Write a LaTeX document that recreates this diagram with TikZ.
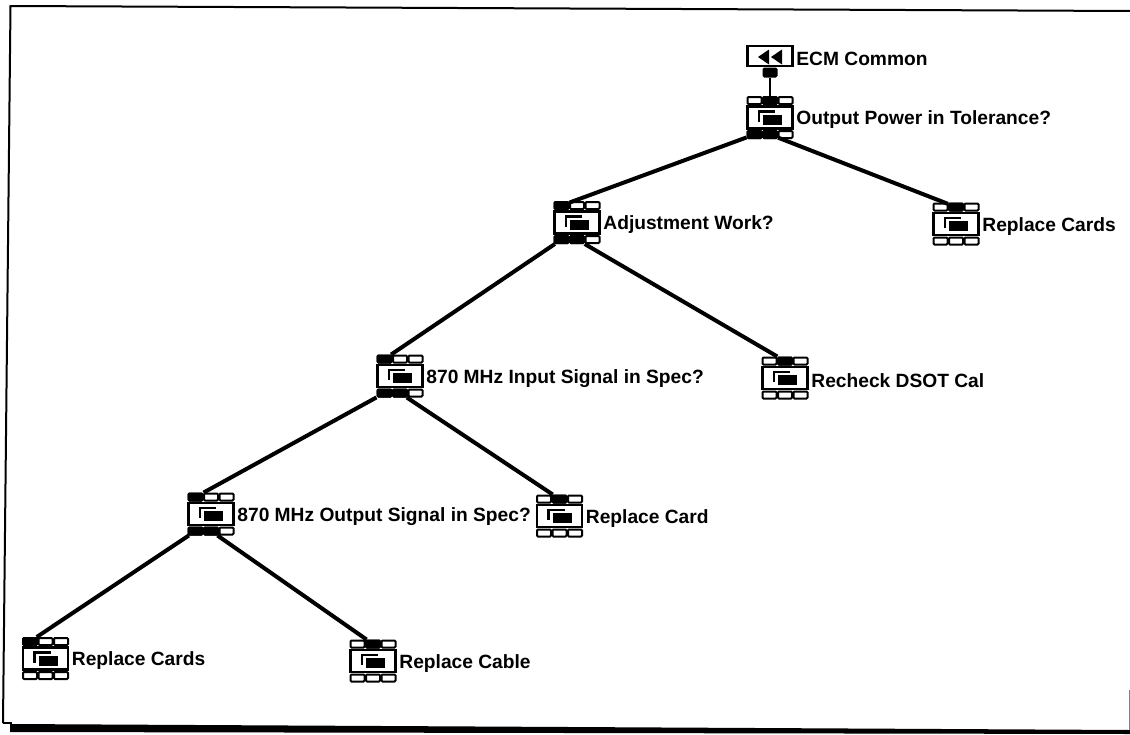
\documentclass[tikz,border=0pt]{standalone}
\usepackage{fontspec}
\setmainfont{Liberation Sans}
\usetikzlibrary{positioning}

\tikzset{
    slot/.style={rectangle, draw=black, line width=2pt, fill=white, rounded corners=1pt, minimum width=14pt, minimum height=7pt, inner sep=0pt},
    cardbody/.style={rectangle, draw=black, line width=2.4pt, fill=white, minimum width=45pt, minimum height=22pt, inner sep=0pt},
    label/.style={font=\bfseries\fontsize{19.2}{22}\selectfont, inner sep=0pt, text=black, yshift=-2.5pt},
    branch/.style={draw=black, line width=4pt}
}

% #1 name, #2 centre, #3 black slots, #4 text
\newcommand{\carditem}[4]{
    \node[cardbody] (#1) at (#2) {};
    \foreach \i/\dx in {1/-15.5, 2/0, 3/15.5} {
        \node[slot] (#1-t\i) at ([shift={(\dx,-17)}]#1.center) {};
        \node[slot] (#1-b\i) at ([shift={(\dx,17)}]#1.center) {};
    }
    \foreach \s in {#3} {
        \node[slot, fill=black] at (#1-\s.center) {};
    }
    \draw[line width=2.4pt] ([shift={(-11,4)}]#1.center) |- ([shift={(5,-6)}]#1.center);
    \fill ([shift={(-7,-3)}]#1.center) rectangle ([shift={(12,7)}]#1.center);
    \node[label, right=2.5pt of #1] (#1-text) {#4};
}

\begin{document}
\begin{tikzpicture}[x=1pt, y=-1pt]
    \useasboundingbox (0,0) rectangle (1130,734);
    \fill[white] (0,0) rectangle (1130,734);

    % frame
    \draw[line width=2pt] (3,723) -- (10.5,6) -- (1130,11);
    \draw[line width=1.5pt] (3,723) -- (12,723);
    \fill (10,724) -- (1130,730) -- (1130,734) -- (10,732) -- cycle;
    \draw[gray, line width=1pt] (1129.5,690) -- (1129.5,730);

    \carditem{power}{770,117.5}{t2,b1,b2}{Output Power in Tolerance?}
    \carditem{adjust}{577,222.5}{t1,b1,b2}{Adjustment Work?}
    \carditem{cardsa}{956,224}{t2}{Replace Cards}
    \carditem{input}{400,376}{t1,b1,b2}{870 MHz Input Signal in Spec?}
    \carditem{recheck}{785,378}{t2}{Recheck DSOT Cal}
    \carditem{output}{211,514}{t1,b1,b2}{870 MHz Output Signal in Spec?}
    \carditem{carda}{559.5,516}{t2}{Replace Card}
    \carditem{cardsb}{45.5,658.5}{t1}{Replace Cards}
    \carditem{cable}{373,661}{t2}{Replace Cable}

    % top item
    \node[cardbody, minimum height=20pt] (ecm) at (770,56) {};
    \node[slot, fill=black, minimum width=13pt, minimum height=8pt] (ecm-b) at (770,72.5) {};
    \fill (758,57) -- (769,49.5) -- (769,64.5) -- cycle;
    \fill (771,57) -- (782,49.5) -- (782,64.5) -- cycle;
    \node[label, right=2.5pt of ecm] (ecm-text) {ECM Common};

    \draw[line width=2.4pt] (ecm-b) -- (power-t2);
    \draw[branch] (power-b1) -- (adjust-t1);
    \draw[branch] (power-b2) -- (cardsa-t2);
    \draw[branch] (adjust-b1) -- (input-t1);
    \draw[branch] (adjust-b2) -- (recheck-t2);
    \draw[branch] (input-b1) -- (output-t1);
    \draw[branch] (input-b2) -- (carda-t2);
    \draw[branch] (output-b1) -- (cardsb-t1);
    \draw[branch] (output-b2) -- (cable-t2);
\end{tikzpicture}
\end{document}
